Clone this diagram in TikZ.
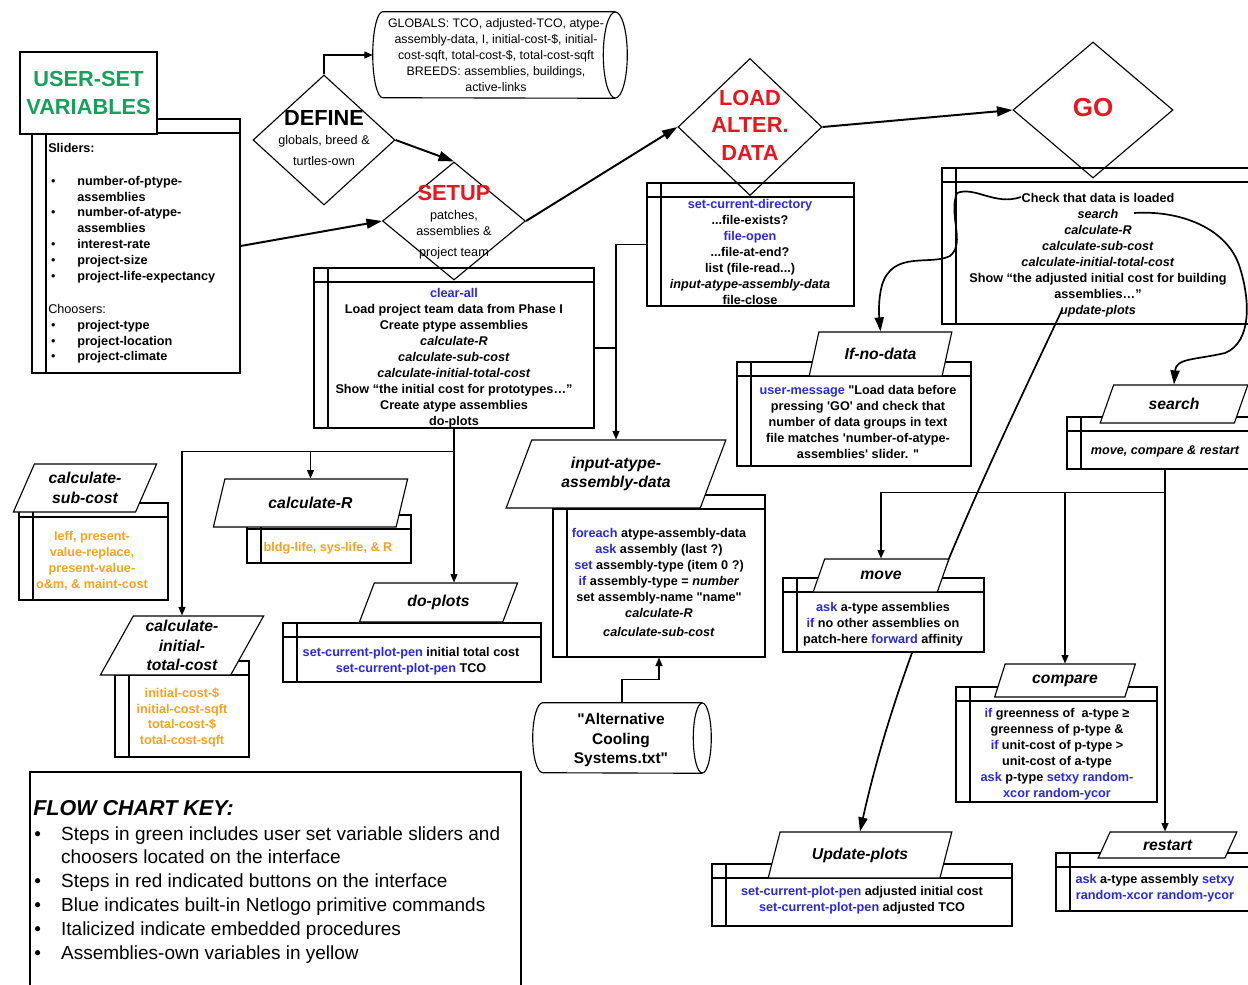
\documentclass[tikz,border=0pt]{standalone}
\usepackage{fontspec}
\setmainfont{Liberation Sans}
\usetikzlibrary{shapes.geometric,arrows.meta,positioning}

\definecolor{prim}{RGB}{40,40,225}
\definecolor{button}{RGB}{232,22,30}
\definecolor{userset}{RGB}{22,160,90}
\definecolor{ownvar}{RGB}{245,162,35}

\newcommand{\pxu}{0.025cm}
\newcommand{\prm}[1]{\textcolor{prim}{#1}}
\newcommand{\dq}{\textquotedbl}

\tikzset{
  dims/.style 2 args={minimum width=#1*\pxu, minimum height=#2*\pxu},
  store/.style={draw, fill=white, line width=0.8pt, inner sep=0pt,
    path picture={
      \draw[line width=0.8pt] ([yshift=-0.35cm]path picture bounding box.north west) -- ([yshift=-0.35cm]path picture bounding box.north east)
        ([xshift=0.35cm]path picture bounding box.north west) -- ([xshift=0.35cm]path picture bounding box.south west);}},
  para/.style={trapezium, trapezium left angle=64, trapezium right angle=116, trapezium stretches=true,
    draw, fill=white, line width=0.8pt, inner sep=0pt, align=center,
    font=\fontsize{11.2}{13.8}\selectfont\bfseries\itshape},
  decision/.style={diamond, draw, line width=0.8pt, inner sep=0pt},
  body/.style={font=\fontsize{9}{11.3}\selectfont\bfseries, align=center, inner sep=0pt, anchor=north},
  small/.style={font=\fontsize{9}{11.3}\selectfont, align=center, inner sep=0pt},
  title/.style={font=\fontsize{15.5}{19.5}\selectfont\bfseries, align=center, inner sep=0pt},
  conn/.style={line width=0.8pt},
  link/.style={line width=0.8pt, -{Triangle[length=6pt,width=5pt]}},
  bigarr/.style={line width=1.4pt, -{Triangle[length=11pt,width=7pt]}},
  curvearr/.style={line width=1.2pt, -{Triangle[length=10pt,width=6.5pt]}}
}

\begin{document}
\begin{tikzpicture}[x=\pxu, y=-\pxu]
  \useasboundingbox (0,0) rectangle (1248,985);

  % key
  \node[draw, line width=0.8pt, inner sep=0pt, dims={491}{228}] (keybox) at (275.5,886) {};
  \node[anchor=base west, inner sep=0pt, font=\fontsize{15.3}{18}\selectfont\bfseries\itshape] (keyttl) at (33,815) {FLOW CHART KEY:};
  \node[anchor=north west, inner sep=0pt, font=\fontsize{13.5}{17}\selectfont] (keylist) at (34,823) {%
    \begin{tabular}{@{}l@{\hspace{14.4pt}}l@{}}
      \textbullet & Steps in green includes user set variable sliders and\\
                  & choosers located on the interface\\
      \textbullet & Steps in red indicated buttons on the interface\\
      \textbullet & Blue indicates built-in Netlogo primitive commands\\
      \textbullet & Italicized indicate embedded procedures\\
      \textbullet & Assemblies-own variables in yellow
    \end{tabular}};

  % user-set variables
  \node[store, dims={208}{254}] (uvstore) at (136,246) {};
  \node[draw, fill=white, line width=0.8pt, inner sep=0pt, dims={137}{82}, title, text=userset] (uvtitle) at (88.5,93) {USER-SET\\VARIABLES};
  \node[anchor=north west, inner sep=0pt, font=\fontsize{9}{11.3}\selectfont] (uvlist) at (48,141) {%
    \begin{tabular}{@{\hspace{2pt}}l@{\hspace{15.5pt}}l@{}}
      \multicolumn{2}{@{}l}{\textbf{Sliders:}}\\[12pt]
      \textbullet & \textbf{number-of-ptype-}\\
                  & \textbf{assemblies}\\
      \textbullet & \textbf{number-of-atype-}\\
                  & \textbf{assemblies}\\
      \textbullet & \textbf{interest-rate}\\
      \textbullet & \textbf{project-size}\\
      \textbullet & \textbf{project-life-expectancy}\\[12pt]
      \multicolumn{2}{@{}l}{Choosers:}\\
      \textbullet & \textbf{project-type}\\
      \textbullet & \textbf{project-location}\\
      \textbullet & \textbf{project-climate}
    \end{tabular}};

  % globals
  \node[inner sep=0pt, dims={254}{86}] (globals) at (500,55) {};
  \draw[conn] ([xshift=-12*\pxu]globals.north east) -- ([xshift=10*\pxu]globals.north west)
    arc[start angle=90, end angle=270, x radius=10*\pxu, y radius=43*\pxu]
    -- ([xshift=-12*\pxu]globals.south east);
  \draw[conn] ([xshift=-12*\pxu]globals.east) ellipse[x radius=12*\pxu, y radius=43*\pxu];
  \node[small, font=\fontsize{8.8}{11.3}\selectfont, anchor=north] (globalstxt) at (496,18.5)
    {GLOBALS: TCO, adjusted-TCO, atype-\\assembly-data, I, initial-cost-\$, initial-\\cost-sqft, total-cost-\$, total-cost-sqft\\BREEDS: assemblies, buildings,\\active-links};

  % upper boxes
  \node[store, dims={280}{160}] (setupbox) at (454,348) {};
  \node[body] (setuptxt) at (454,288.5) {\prm{clear-all}\\Load project team data from Phase I\\Create ptype assemblies\\\textit{calculate-R}\\\textit{calculate-sub-cost}\\\textit{calculate-initial-total-cost}\\Show “the initial cost for prototypes…”\\Create atype assemblies\\do-plots};
  \node[store, dims={207}{123}] (loadbox) at (750.5,244.5) {};
  \node[body] (loadtxt) at (750,199.5) {\prm{set-current-directory}\\...file-exists?\\\prm{file-open}\\...file-at-end?\\list (file-read...)\\\textit{input-atype-assembly-data}\\file-close};
  \node[store, dims={320}{156}] (gobox) at (1102,246) {};
  \node[body] (gotxt) at (1098,193.5) {Check that data is loaded\\\textit{search}\\\textit{calculate-R}\\\textit{calculate-sub-cost}\\\textit{calculate-initial-total-cost}\\Show “the adjusted initial cost for building\\assemblies…”\\\textit{update-plots}};
  \node[store, dims={234}{104}] (ifnobox) at (854,414) {};
  \node[body] (ifnotxt) at (858,385.5) {\prm{user-message} \dq Load data before\\pressing \textquotesingle GO\textquotesingle\ and check that\\number of data groups in text\\file matches \textquotesingle number-of-atype-\\assemblies\textquotesingle\ slider. \dq};
  \node[para, dims={143}{44}] (ifnopara) at (880.5,354) {If-no-data};
  \node[store, dims={196}{52}] (searchbox) at (1165,443) {};
  \node[body, font=\fontsize{9}{11.3}\selectfont\bfseries\itshape] (searchtxt) at (1165,445.5) {move, compare \& restart};
  \node[para, dims={148}{38}] (searchpara) at (1174,404) {search};

  % diamonds
  \node[decision, dims={142}{130}] (define) at (324,140) {};
  \node[title] (definettl) at (324,118) {DEFINE};
  \node[small, anchor=north, font=\fontsize{9}{15}\selectfont] (definesub) at (324,135) {globals, breed \&\\turtles-own};
  \node[decision, dims={143}{118}] (setup) at (454,221) {};
  \node[title, text=button] (setupttl) at (454,193) {SETUP};
  \node[small, anchor=north] (setupsub) at (454,210) {patches,\\assemblies \&\\[4pt]project team};
  \node[decision, dims={144}{137}] (load) at (750,127) {};
  \node[title, text=button] (loadttl) at (750,125) {LOAD\\ALTER.\\DATA};
  \node[decision, dims={160}{136}] (go) at (1093,110) {};
  \node[title, font=\fontsize{18.5}{20}\selectfont\bfseries, text=button] (gottl) at (1093,108) {GO};

  % lower boxes
  \node[store, dims={149}{97}] (subbox) at (93.5,551.5) {};
  \node[body, text=ownvar] (subtxt) at (92,531.5) {Ieff, present-\\value-replace,\\present-value-\\o\&m, \& maint-cost};
  \node[para, dims={144}{48}] (subpara) at (85,488) {calculate-\\sub-cost};
  \node[store, dims={164}{48}] (rbox) at (329,539) {};
  \node[body, text=ownvar] (rtxt) at (328,542.5) {bldg-life, sys-life, \& R};
  \node[para, dims={195}{48}] (rpara) at (310.5,503) {calculate-R};
  \node[store, dims={134}{96}] (initbox) at (182,709) {};
  \node[body, text=ownvar] (inittxt) at (182,687.5) {initial-cost-\$\\initial-cost-sqft\\total-cost-\$\\total-cost-sqft};
  \node[para, dims={164}{59}] (initpara) at (182,645.5) {calculate-\\initial-\\total-cost};
  \node[store, dims={258}{59}] (doplotsbox) at (412,652.5) {};
  \node[body] (doplotstxt) at (411,647.5) {\prm{set-current-plot-pen} initial total cost\\\prm{set-current-plot-pen} TCO};
  \node[para, dims={159}{39}] (dopara) at (438.5,602.5) {do-plots};
  \node[store, dims={212}{162}] (inputbox) at (659,576) {};
  \node[body] (inputtxt) at (659,528.5) {\prm{foreach} atype-assembly-data\\\prm{ask} assembly (last ?)\\\prm{set} assembly-type (item 0 ?)\\\prm{if} assembly-type = \textit{number}\\set assembly-name \dq name\dq\\\textit{calculate-R}\\[2pt]\textit{calculate-sub-cost}};
  \node[para, dims={220}{68}] (inputpara) at (616,474) {input-atype-\\assembly-data};
  \node[inner sep=0pt, dims={178}{70}] (altcyl) at (622,738) {};
  \draw[conn] ([xshift=-9*\pxu]altcyl.north east) -- ([xshift=10*\pxu]altcyl.north west)
    arc[start angle=90, end angle=270, x radius=10*\pxu, y radius=35*\pxu]
    -- ([xshift=-9*\pxu]altcyl.south east);
  \draw[conn] ([xshift=-9*\pxu]altcyl.east) ellipse[x radius=9*\pxu, y radius=35*\pxu];
  \node[inner sep=0pt, align=center, font=\fontsize{11}{14.2}\selectfont\bfseries] (alttxt) at (621,740) {\dq Alternative\\Cooling\\Systems.txt\dq};
  \node[store, dims={201}{115}] (comparebox) at (1056.5,744.5) {};
  \node[body] (comparetxt) at (1057,708.5) {\prm{if} greenness of~ a-type ≥\\greenness of p-type \&\\\prm{if} unit-cost of p-type >\\unit-cost of a-type\\\prm{ask} p-type \prm{setxy random-}\\\prm{xcor random-ycor}};
  \node[para, dims={141}{33}] (comparepara) at (1065,680.5) {compare};
  \node[store, dims={300}{62}] (updbox) at (862,895) {};
  \node[body] (updtxt) at (862,886.5) {\prm{set-current-plot-pen} adjusted initial cost\\\prm{set-current-plot-pen} adjusted TCO};
  \node[para, dims={184}{46}] (updpara) at (860,855) {Update-plots};
  \node[store, dims={208}{58}] (restartbox) at (1160,882) {};
  \node[body] (restarttxt) at (1155,874.5) {\prm{ask} a-type assembly \prm{setxy}\\\prm{random-xcor random-ycor}};
  \node[para, dims={139}{26}] (restartpara) at (1167.5,845) {restart};

  % main flow
  \draw[bigarr] (uvstore.east) -- (setup.west);
  \draw[bigarr] (define.east) -- (setup.north);
  \draw[bigarr] (setup.east) -- (load.west);
  \draw[bigarr] (load.east) -- (go.west);
  \draw[link] (define.north) |- (globals.west);

  \draw[conn] (setupbox.south) -- ++(0,23) coordinate (setupsplit);
  \draw[link] (setupsplit) -| (initpara.north);
  \draw[link] (setupsplit) -| (rpara.north);
  \draw[link] (setupsplit) -- (setupsplit |- dopara.north);
  \draw[link] (loadbox.west) -| (inputpara.north);
  \draw[conn] (setupbox.east) -- (setupbox.east -| inputpara.north);
  \draw[link] (altcyl.north) -- ++(0,-23) -| (inputbox.south);

  \draw[conn] (searchbox.south) -- ++(0,23) coordinate (searchsplit);
  \draw[link] (searchsplit) -| (comparepara.north);
  \draw[link] (searchsplit) -- (searchsplit |- restartpara.north);

  % go procedure calls
  \coordinate (chkstart) at (1021,197);
  \coordinate (srchstart) at (1134,213);
  \coordinate (updstart) at (1062,310);
  \draw[curvearr] (chkstart) .. controls (995,206) and (975,186) .. (957,193)
    .. controls (948,215) and (966,243) .. (950,256)
    .. controls (930,266) and (893,250) .. (882,285)
    .. controls (878,300) and (879,315) .. (ifnopara.north);
  \draw[curvearr] (srchstart) .. controls (1180,210) and (1228,228) .. (1240,268)
    .. controls (1250,300) and (1252,342) .. (1225,353)
    .. controls (1195,360) and (1176,358) .. (searchpara.north);
  \draw[curvearr] (updstart) .. controls (982,480) and (900,650) .. (updpara.north);

  % move sits over the update-plots call
  \node[store, dims={201}{74}] (movebox) at (883.5,615) {};
  \node[body] (movetxt) at (883,602.5) {\prm{ask} a-type assemblies\\\prm{if} no other assemblies on\\patch-here \prm{forward} affinity};
  \node[para, dims={136}{33}] (movepara) at (881,575.5) {move};
  \draw[link] (searchsplit) -| (movepara.north);
\end{tikzpicture}
\end{document}
